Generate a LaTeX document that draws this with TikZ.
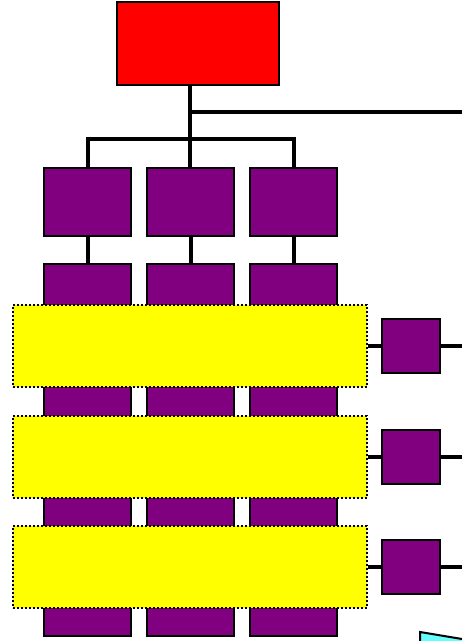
\documentclass[tikz,border=0pt]{standalone}
\usetikzlibrary{positioning}

\definecolor{lila}{RGB}{128,0,128}
\definecolor{tuerkis}{RGB}{102,255,255}
\definecolor{gelbton}{RGB}{255,255,0}

\tikzset{
    kasten/.style={rectangle, draw=black, line width=2pt, fill=lila, inner sep=0pt},
    gelb/.style={rectangle, draw=black, dash pattern=on 2pt off 2pt, line width=2pt, fill=gelbton, inner sep=0pt,
        minimum width=354pt, minimum height=82pt},
    klein/.style={kasten, minimum width=58pt, minimum height=54pt},
    linie/.style={line width=4pt}
}

\begin{document}
\begin{tikzpicture}[x=1pt,y=-1pt]
    \clip (0,0) rectangle (462,641);
    \fill[white] (0,0) rectangle (462,641);
    \path node[kasten, fill=red, minimum width=162pt, minimum height=83pt] (chef) at (198,43.5) {}
        node[kasten, minimum width=87pt, minimum height=68pt] (A1) at (87.5,202) {}
        node[kasten, minimum width=87pt, minimum height=68pt] (B1) at (190.5,202) {}
        node[kasten, minimum width=87pt, minimum height=68pt] (C1) at (293.5,202) {}
        node[kasten, minimum width=87pt, minimum height=372pt] (A2) at (87.5,450) {}
        node[kasten, minimum width=87pt, minimum height=372pt] (B2) at (190.5,450) {}
        node[kasten, minimum width=87pt, minimum height=372pt] (C2) at (293.5,450) {};
    \coordinate (rechts) at (470,112);
    \coordinate (ast) at (190,139);
        \draw[linie]   (chef.south -| ast) -- (B1.north -| ast);
        \draw[linie]   (chef.south -| ast) |- (rechts);
        \draw[linie]   (ast) -| (A1.north);
        \draw[linie]   (ast) -| (C1.north);
        \draw[linie]   (A1) -- (A2.north);
        \draw[linie]   (B1) -- (B2.north);
        \draw[linie]   (C1) -- (C2.north);
    % gelbe Bänder mit kleinen Kästen
    \foreach \y [count=\i] in {346,457,567} {
        \coordinate (ende\i) at (470,\y);
        \node[klein] (K\i) at (411,\y) {};
        \node[gelb] (G\i) at (190,\y) {};
        \draw[linie] (G\i.east) -- (K\i.west);
        \draw[linie] (K\i.east) -- (ende\i);
    }
    \draw[line width=2pt, fill=tuerkis] (420,632) -- (480,642) -- (420,660) -- cycle;
    \end{tikzpicture}
\end{document}
